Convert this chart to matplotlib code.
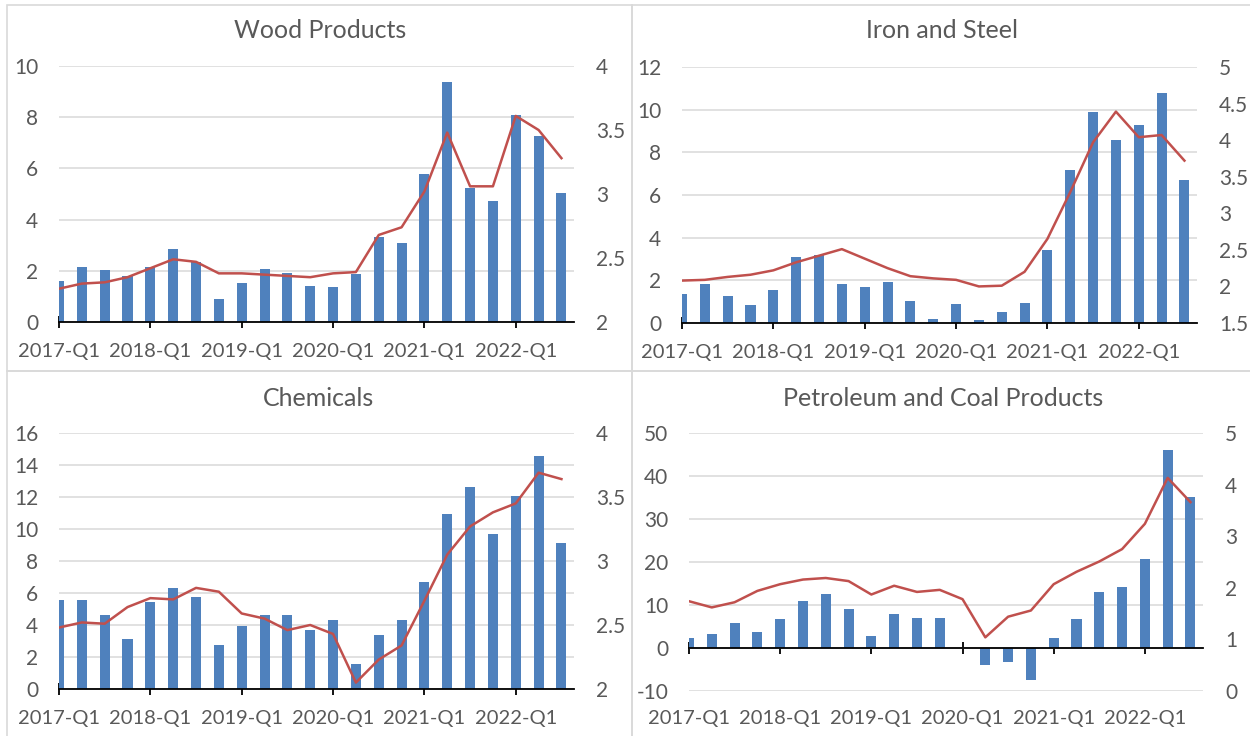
import matplotlib
matplotlib.use("Agg")
import matplotlib.pyplot as plt
from matplotlib.patches import Rectangle
from matplotlib.ticker import FuncFormatter

plt.rcParams['font.family'] = ['Lato', 'DejaVu Sans']

quarters = [f"{y}-Q{q}" for y in range(2017, 2023) for q in range(1, 5)][:23]
year_ticks = ["2017-Q1", "2018-Q1", "2019-Q1", "2020-Q1", "2021-Q1", "2022-Q1"]

wood_bars = [1.6, 2.13, 2.05, 1.78, 2.13, 2.84, 2.34, 0.9, 1.53, 2.06, 1.91, 1.39,
             1.38, 1.86, 3.32, 3.08, 5.77, 9.36, 5.23, 4.71, 8.08, 7.27, 5.03]
wood_line = [2.26, 2.30, 2.31, 2.35, 2.42, 2.49, 2.47, 2.38, 2.38, 2.37, 2.36, 2.35,
             2.38, 2.39, 2.68, 2.74, 3.02, 3.48, 3.06, 3.06, 3.61, 3.50, 3.28]

iron_bars = [1.38, 1.83, 1.28, 0.86, 1.53, 3.09, 3.2, 1.84, 1.69, 1.92, 1.03, 0.17,
             0.91, 0.16, 0.53, 0.95, 3.44, 7.19, 9.89, 8.58, 9.30, 10.8, 6.72]
iron_line = [2.08, 2.09, 2.13, 2.16, 2.22, 2.33, 2.42, 2.51, 2.38, 2.25, 2.14, 2.11,
             2.09, 2.00, 2.01, 2.20, 2.65, 3.29, 3.97, 4.39, 4.04, 4.07, 3.72]

chem_bars = [5.58, 5.54, 4.63, 3.15, 5.42, 6.31, 5.73, 2.75, 3.92, 4.65, 4.65, 3.67,
             4.31, 1.56, 3.35, 4.33, 6.69, 10.94, 12.6, 9.71, 12.04, 14.54, 9.13]
chem_line = [2.48, 2.52, 2.51, 2.64, 2.71, 2.70, 2.79, 2.76, 2.59, 2.55, 2.46, 2.50,
             2.43, 2.05, 2.23, 2.34, 2.69, 3.05, 3.27, 3.38, 3.45, 3.69, 3.64]

petro_bars = [2.4, 3.2, 5.9, 3.8, 6.7, 11.0, 12.5, 9.1, 2.7, 7.9, 7.0, 6.9,
              0.0, -3.9, -3.3, -7.4, 2.4, 6.8, 13.0, 14.1, 20.7, 46.0, 35.1]
petro_line = [1.74, 1.62, 1.72, 1.94, 2.07, 2.16, 2.19, 2.13, 1.87, 2.04, 1.92, 1.96,
              1.78, 1.04, 1.44, 1.56, 2.07, 2.31, 2.51, 2.75, 3.24, 4.13, 3.66]

BAR_C = '#4F81BD'
LINE_C = '#C0504D'
TXT_C = '#595959'
GRID_C = '#D9D9D9'

W, H = 1250, 736
fig = plt.figure(figsize=(12.5, 7.36), dpi=100)

def rect(l, t, r, b):
    return [l / W, 1 - b / H, (r - l) / W, (b - t) / H]

# panel borders
for (l, t, r, b) in [(7, 5, 632, 371), (632, 5, 1252, 371), (7, 371, 632, 740), (632, 371, 1252, 740)]:
    fig.add_artist(Rectangle((l / W, 1 - b / H), (r - l) / W, (b - t) / H,
                             transform=fig.transFigure, fill=False, edgecolor=GRID_C, lw=1.2))

fmt = FuncFormatter(lambda v, p: f"{v:g}")

def panel(box, title, bars, line, ylim, yticks, y2lim, y2ticks, title_xy, label_pad):
    ax = fig.add_axes(rect(*box))
    x = list(range(len(quarters)))
    ax.bar(x, bars, width=0.44, color=BAR_C, zorder=2)
    ax.set_xlim(0, 22.55)
    ax.set_ylim(*ylim)
    ax.set_yticks(yticks)
    ax.yaxis.set_major_formatter(fmt)
    ax.set_axisbelow(True)
    ax.grid(axis='y', color=GRID_C, lw=1.1)
    for s in ['top', 'right', 'left']:
        ax.spines[s].set_visible(False)
    ax.spines['bottom'].set_position(('data', 0))
    ax.spines['bottom'].set_color('black')
    ax.spines['bottom'].set_linewidth(1.3)
    ax.spines['bottom'].set_zorder(3)
    tick_pos = [quarters.index(q) for q in year_ticks]
    ax.set_xticks(tick_pos)
    ax.tick_params(axis='x', direction='inout', length=9, width=1.3, color='black', labelbottom=False)
    ax.tick_params(axis='y', length=0, pad=15, labelsize=15, labelcolor=TXT_C)

    sec = ax.secondary_xaxis('bottom')
    sec.set_xticks(tick_pos)
    sec.set_xticklabels(year_ticks)
    sec.tick_params(length=0, pad=label_pad, labelsize=14.5, labelcolor=TXT_C)
    sec.spines['bottom'].set_visible(False)

    ax2 = ax.twinx()
    ax2.plot(x, line, color=LINE_C, lw=1.8, zorder=4)
    ax2.set_ylim(*y2lim)
    ax2.set_yticks(y2ticks)
    ax2.yaxis.set_major_formatter(fmt)
    for s in ['top', 'right', 'left', 'bottom']:
        ax2.spines[s].set_visible(False)
    ax2.tick_params(axis='y', length=0, pad=16, labelsize=15, labelcolor=TXT_C)
    ax2.set_xlim(0, 22.55)

    fig.text(title_xy[0] / W, 1 - title_xy[1] / H, title, ha='center', va='center',
             fontsize=18, color=TXT_C)

panel((59, 66, 574, 322), "Wood Products", wood_bars, wood_line,
      (0, 10), [0, 2, 4, 6, 8, 10], (2, 4), [2, 2.5, 3, 3.5, 4], (320, 31), 15)
panel((682, 67, 1197, 323), "Iron and Steel", iron_bars, iron_line,
      (0, 12), [0, 2, 4, 6, 8, 10, 12], (1.5, 5), [1.5, 2, 2.5, 3, 3.5, 4, 4.5, 5], (942, 31), 15)
panel((59, 433, 574, 689), "Chemicals", chem_bars, chem_line,
      (0, 16), [0, 2, 4, 6, 8, 10, 12, 14, 16], (2, 4), [2, 2.5, 3, 3.5, 4], (319, 398), 15)
panel((689, 433, 1203, 691), "Petroleum and Coal Products", petro_bars, petro_line,
      (-10, 50), [-10, 0, 10, 20, 30, 40, 50], (0, 5), [0, 1, 2, 3, 4, 5], (943, 398), 14)

fig.savefig("out.png", dpi=100)
